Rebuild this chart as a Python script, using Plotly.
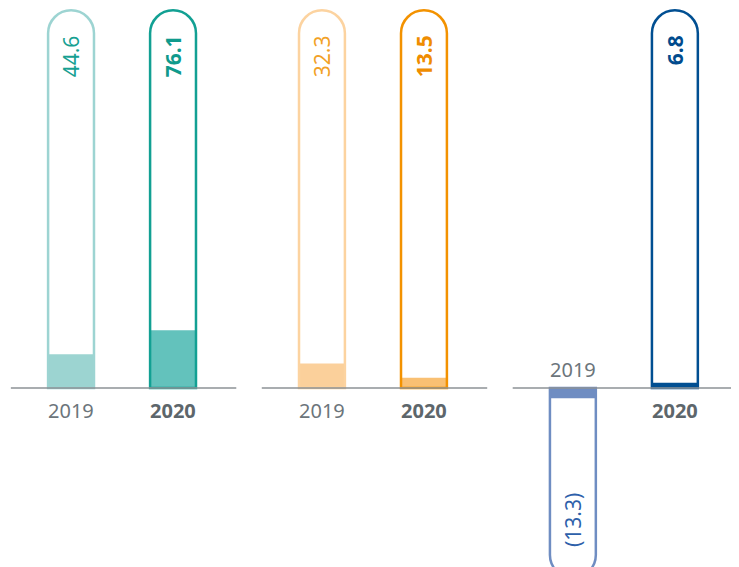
import plotly.graph_objects as go

# ---- data ----
panels = ["Panel A", "Panel B", "Panel C"]
years = ["2019", "2020"]
values_2019 = [44.6, 32.3, -13.3]
values_2020 = [76.1, 13.5, 6.8]

# ---- style ----
outline_2019 = ["#9dd4d2", "#fcd3a0", "#6f8dc2"]
fill_2019 = ["#9cd4d1", "#fbd09b", "#6f8dc2"]
text_2019 = ["#17a092", "#f2a126", "#2d60aa"]
outline_2020 = ["#12a093", "#f39200", "#014f92"]
fill_2020 = ["#63c2bc", "#f9c073", "#014f92"]
text_2020 = ["#0f9a8c", "#ef8d00", "#014b8d"]

PANEL_GAP = 2.46
BAR_W = 0.45
CAP_TOP = 497
CAP_BOTTOM = -250
FONT = "Noto Sans"

xs, vals, fills, outlines, tcols, bolds, yrs = [], [], [], [], [], [], []
for i in range(len(panels)):
    for j, (v, f, o, t) in enumerate([
        (values_2019[i], fill_2019[i], outline_2019[i], text_2019[i]),
        (values_2020[i], fill_2020[i], outline_2020[i], text_2020[i]),
    ]):
        xs.append(i * PANEL_GAP + j)
        vals.append(v)
        fills.append(f)
        outlines.append(o)
        tcols.append(t)
        bolds.append(j == 1)
        yrs.append(years[j])

caps = [CAP_TOP if v >= 0 else CAP_BOTTOM for v in vals]

fig = go.Figure()
fig.add_trace(go.Bar(
    x=xs, y=vals, width=BAR_W,
    marker=dict(color=fills, line=dict(width=0)),
    hoverinfo="skip", showlegend=False,
))
fig.add_trace(go.Bar(
    x=xs, y=caps, width=BAR_W,
    marker=dict(color="rgba(0,0,0,0)", line=dict(color=outlines, width=2.5),
                cornerradius="50%"),
    hoverinfo="skip", showlegend=False,
))

ann = []
for x, v, c, b, yr in zip(xs, vals, tcols, bolds, yrs):
    label = f"{v:.1f}" if v >= 0 else f"({abs(v):.1f})"
    txt = f"<b>{label}</b>" if b else label
    if v >= 0:
        ann.append(dict(x=x, y=CAP_TOP, text=txt, textangle=-90, showarrow=False,
                        xanchor="center", yanchor="top", yshift=-23,
                        font=dict(family=FONT, size=21, color=c)))
    else:
        ann.append(dict(x=x, y=CAP_BOTTOM + 38, text=txt, textangle=-90, showarrow=False,
                        xanchor="center", yanchor="bottom",
                        font=dict(family=FONT, size=21, color=c)))
    ytxt = f"<b>{yr}</b>" if b else yr
    ycol = "#5d666b" if b else "#6c757b"
    if v >= 0:
        ann.append(dict(x=x, y=0, text=ytxt, showarrow=False, xanchor="center",
                        yanchor="top", yshift=-7,
                        font=dict(family=FONT, size=20, color=ycol)))
    else:
        ann.append(dict(x=x, y=0, text=ytxt, showarrow=False, xanchor="center",
                        yanchor="bottom", yshift=3,
                        font=dict(family=FONT, size=20, color=ycol)))

shapes = []
for i in range(len(panels)):
    c = i * PANEL_GAP + 0.5
    shapes.append(dict(type="line", xref="x", yref="y", x0=c - 1.09, x1=c + 1.12,
                       y0=0, y1=0, line=dict(color="#8c9296", width=1.5), layer="above"))

fig.update_layout(
    width=739, height=567,
    margin=dict(l=0, r=0, t=0, b=0),
    paper_bgcolor="white", plot_bgcolor="white",
    barmode="overlay",
    annotations=ann, shapes=shapes,
    xaxis=dict(range=[-0.618, 6.627], visible=False, fixedrange=True),
    yaxis=dict(range=[-246, 500], visible=False, fixedrange=True),
)
fig.write_html("out.html")
